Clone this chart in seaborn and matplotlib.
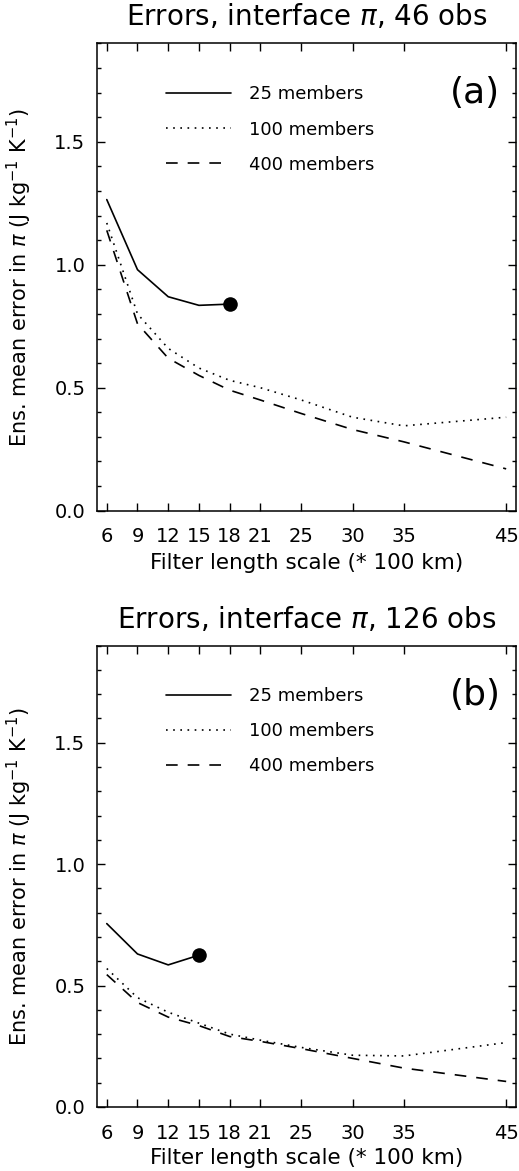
import numpy as np
import pandas as pd
import matplotlib
matplotlib.use('Agg')
import matplotlib.pyplot as plt
import seaborn as sns
from matplotlib.ticker import FixedLocator, MultipleLocator

# ---------------- data ----------------
scales = [6, 9, 12, 15, 18, 21, 25, 30, 35, 45]
x_tick_labels = ['6', '9', '12', '15', '18', '21', '25', '30', '35', '45']
series_labels = ['25 members', '100 members', '400 members']

a_25_x = [6, 9, 12, 15, 18]
a_25 = [1.265, 0.98, 0.87, 0.835, 0.84]
a_100 = [1.17, 0.80, 0.66, 0.58, 0.53, 0.50, 0.45, 0.38, 0.345, 0.38]
a_400 = [1.14, 0.76, 0.62, 0.55, 0.49, 0.45, 0.395, 0.33, 0.28, 0.17]

b_25_x = [6, 9, 12, 15]
b_25 = [0.755, 0.63, 0.585, 0.625]
b_100 = [0.57, 0.45, 0.39, 0.345, 0.30, 0.275, 0.245, 0.213, 0.21, 0.265]
b_400 = [0.545, 0.43, 0.37, 0.335, 0.29, 0.27, 0.24, 0.20, 0.16, 0.105]

titles = [r'Errors, interface $\pi$, 46 obs', r'Errors, interface $\pi$, 126 obs']
panel_tags = ['(a)', '(b)']
ylabel = r'Ens. mean error in $\pi$ (J kg$^{-1}$ K$^{-1}$)'
xlabel = 'Filter length scale (* 100 km)'

# ---------------- style ----------------
sns.set_theme(style='ticks')
plt.rcParams['font.family'] = ['DejaVu Sans']
plt.rcParams['mathtext.fontset'] = 'dejavusans'
for key in ['text.color', 'axes.labelcolor', 'xtick.color', 'ytick.color',
            'axes.edgecolor']:
    plt.rcParams[key] = 'black'

LW = 1.2
dash_map = {'25 members': '', '100 members': (1, 3.3), '400 members': (7, 6)}

fig = plt.figure(figsize=(5.19, 11.71), dpi=100)
ax_a = fig.add_axes([0.186, 0.5639, 0.809, 0.399])
ax_b = fig.add_axes([0.186, 0.0547, 0.809, 0.394])

panels = [
    (ax_a, a_25_x, a_25, a_100, a_400),
    (ax_b, b_25_x, b_25, b_100, b_400),
]

for i, (ax, x25, y25, y100, y400) in enumerate(panels):
    df = pd.concat([
        pd.DataFrame({'scale': x25, 'err': y25, 'members': series_labels[0]}),
        pd.DataFrame({'scale': scales, 'err': y100, 'members': series_labels[1]}),
        pd.DataFrame({'scale': scales, 'err': y400, 'members': series_labels[2]}),
    ], ignore_index=True)
    sns.lineplot(data=df, x='scale', y='err', style='members',
                 style_order=series_labels, dashes=dash_map,
                 color='black', linewidth=LW, ax=ax, legend=False,
                 sort=False, estimator=None)
    handles = list(ax.get_lines())[:3]
    # end marker on the 25-member curve
    sns.scatterplot(x=[x25[-1]], y=[y25[-1]], color='black', s=110,
                    edgecolor='black', linewidth=0, ax=ax, legend=False, zorder=5)

    ax.set_xlim(5, 46)
    ax.set_ylim(0, 1.9)
    ax.xaxis.set_major_locator(FixedLocator(scales))
    ax.set_xticklabels(x_tick_labels)
    ax.yaxis.set_major_locator(FixedLocator([0.0, 0.5, 1.0, 1.5]))
    ax.set_yticklabels(['0.0', '0.5', '1.0', '1.5'])
    ax.yaxis.set_minor_locator(MultipleLocator(0.1))
    ax.tick_params(axis='both', which='both', direction='in', top=True, right=True,
                   color='black', width=1.0)
    ax.tick_params(axis='both', which='major', length=6, labelsize=14)
    ax.tick_params(axis='y', which='minor', length=3)
    ax.tick_params(axis='x', which='major', pad=12)
    ax.tick_params(axis='y', which='major', pad=8)
    for sp in ax.spines.values():
        sp.set_linewidth(1.1)
        sp.set_color('black')

    ax.set_title(titles[i], fontsize=20, pad=13)
    ax.set_xlabel(xlabel, fontsize=15.5)
    ax.set_ylabel(ylabel, fontsize=15)
    ax.yaxis.set_label_coords(-0.15, 0.5)
    ax.xaxis.set_label_coords(0.5, -0.09)

    leg = ax.legend(handles=handles, labels=series_labels, loc='upper left',
                    bbox_to_anchor=(0.165, 0.91), frameon=False, fontsize=13,
                    handlelength=3.6, handletextpad=1.0, labelspacing=0.95,
                    borderpad=0, borderaxespad=0)
    for t in leg.get_texts():
        t.set_color('black')
    ax.text(0.962, 0.893, panel_tags[i], transform=ax.transAxes, fontsize=26,
            ha='right', va='center', color='black')

fig.savefig('out.png', dpi=100)
